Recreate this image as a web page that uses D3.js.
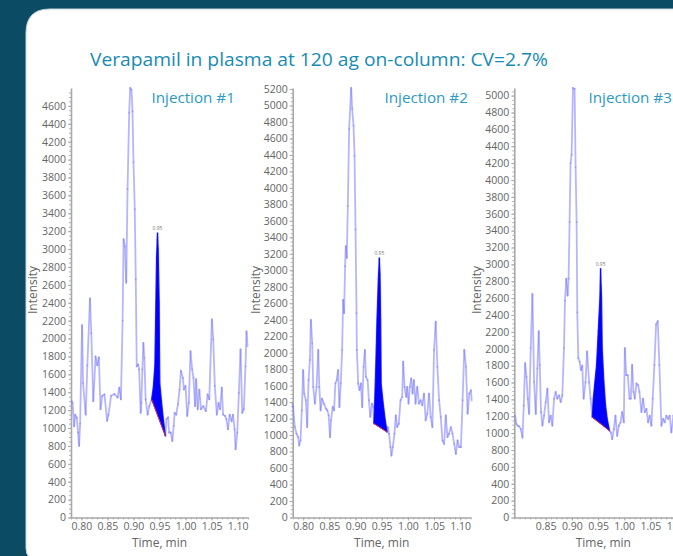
<!DOCTYPE html>
<html>
<head>
<meta charset="utf-8">
<script src="https://cdn.jsdelivr.net/npm/d3@7"></script>
<style>
body { margin: 0; background: #0b4b63; }
svg { display: block; }
</style>
</head>
<body>
<div id="chart-area"></div>
<script>
var width = 673;
var height = 556;

// injection #1
var inj1Time = [0.7816,0.7829,0.7861,0.7880,0.7911,0.7937,0.7956,0.7975,0.8013,0.8032,0.8082,0.8114,0.8165,0.8190,0.8228,0.8272,0.8304,0.8335,0.8367,0.8399,0.8443,0.8494,0.8519,0.8570,0.8633,0.8696,0.8728,0.8759,0.8791,0.8810,0.8835,0.8861,0.8886,0.8918,0.8937,0.8962,0.8981,0.9000,0.9025,0.9044,0.9063,0.9089,0.9108,0.9139,0.9152,0.9171,0.9190,0.9209,0.9234,0.9272,0.9304,0.9348,0.9380,0.9411,0.9430,0.9443,0.9456,0.9462,0.9475,0.9494,0.9506,0.9538,0.9570,0.9614,0.9633,0.9665,0.9684,0.9715,0.9747,0.9772,0.9791,0.9823,0.9854,0.9886,0.9911,0.9949,0.9968,1.0000,1.0032,1.0063,1.0095,1.0127,1.0152,1.0184,1.0203,1.0234,1.0266,1.0297,1.0342,1.0392,1.0424,1.0456,1.0506,1.0532,1.0563,1.0601,1.0633,1.0665,1.0696,1.0722,1.0759,1.0785,1.0816,1.0848,1.0886,1.0911,1.0943,1.0962,1.0994,1.1025,1.1057,1.1089,1.1120,1.1152,1.1171,1.1190];
var inj1Int = [1300,1280,1020,1150,1115,950,800,1050,2150,1500,1150,1700,2450,2060,1300,1800,1700,1790,1210,1360,1375,1080,1150,1360,1380,1340,1450,1320,2200,3110,3030,2625,3670,4525,4800,4780,4540,3970,3445,2660,1690,1710,1655,1170,1280,1655,1950,1785,1320,1150,1245,1320,1450,1700,2400,2900,3100,3180,3000,2400,1500,1300,1120,910,1100,1120,950,950,855,1023,1170,1150,1265,1430,1640,1560,1430,1470,1135,1280,1860,1655,1560,1245,1545,1210,1430,1210,1245,1190,1375,1320,2213,1990,1470,1150,1280,1210,1450,1150,1135,1100,985,1150,1075,1150,985,763,950,1395,1880,1170,1210,1690,2080,1915];

// injection #2
var inj2Time = [0.7795,0.7808,0.7840,0.7872,0.7904,0.7923,0.7949,0.7974,0.8000,0.8019,0.8051,0.8077,0.8103,0.8128,0.8147,0.8173,0.8192,0.8224,0.8256,0.8288,0.8308,0.8333,0.8359,0.8397,0.8436,0.8462,0.8487,0.8513,0.8532,0.8564,0.8590,0.8615,0.8641,0.8667,0.8692,0.8718,0.8744,0.8763,0.8782,0.8801,0.8814,0.8833,0.8853,0.8878,0.8917,0.8936,0.8962,0.8981,0.9000,0.9019,0.9026,0.9051,0.9077,0.9103,0.9128,0.9154,0.9179,0.9199,0.9231,0.9256,0.9282,0.9314,0.9340,0.9350,0.9365,0.9385,0.9410,0.9436,0.9455,0.9468,0.9480,0.9490,0.9526,0.9564,0.9603,0.9615,0.9641,0.9667,0.9686,0.9712,0.9744,0.9769,0.9795,0.9827,0.9859,0.9891,0.9910,0.9936,0.9968,0.9987,1.0013,1.0038,1.0064,1.0090,1.0115,1.0147,1.0179,1.0212,1.0244,1.0276,1.0308,1.0340,1.0372,1.0404,1.0436,1.0468,1.0500,1.0532,1.0564,1.0596,1.0628,1.0660,1.0692,1.0724,1.0756,1.0788,1.0821,1.0853,1.0885,1.0917,1.0949,1.0981,1.1013,1.1045,1.1077,1.1109,1.1141,1.1173,1.1205,1.1218];
var inj2Int = [1382,1341,1098,1016,976,874,935,1300,1789,1504,1423,1098,1667,1911,2398,2114,1585,1382,1585,2033,1585,1300,1443,1382,1321,1300,1240,976,1179,1341,1300,1626,1667,1789,1341,1626,2033,2642,2480,3049,3293,3151,3780,4716,5212,4960,4756,4390,3496,2480,2033,1626,1545,1626,1341,1829,2033,1707,1667,1423,1220,1382,1341,1140,1380,1800,2400,2900,3150,2950,2400,1620,1400,1200,1037,1098,1016,854,752,854,1016,1240,1098,1138,1423,1463,1890,1585,1463,1585,1382,1585,1687,1504,1667,1382,1585,1382,1423,1362,1504,1179,1260,1504,1220,1098,2033,2378,1829,1423,1220,935,894,1240,976,1016,1098,1016,894,772,935,854,854,1423,2033,1829,1260,1504,1545,1423];

// injection #3
var inj3Time = [0.7916,0.7941,0.7967,0.7992,0.8024,0.8056,0.8081,0.8106,0.8132,0.8157,0.8183,0.8214,0.8246,0.8278,0.8310,0.8341,0.8367,0.8386,0.8411,0.8437,0.8468,0.8500,0.8532,0.8563,0.8595,0.8627,0.8659,0.8690,0.8722,0.8754,0.8786,0.8817,0.8849,0.8868,0.8893,0.8918,0.8937,0.8956,0.8975,0.8994,0.9021,0.9052,0.9071,0.9090,0.9103,0.9122,0.9148,0.9173,0.9198,0.9224,0.9260,0.9290,0.9330,0.9357,0.9389,0.9408,0.9471,0.9503,0.9535,0.9548,0.9567,0.9579,0.9611,0.9643,0.9675,0.9719,0.9744,0.9770,0.9802,0.9833,0.9865,0.9897,0.9929,0.9960,0.9992,1.0011,1.0037,1.0068,1.0100,1.0125,1.0151,1.0176,1.0202,1.0233,1.0265,1.0290,1.0329,1.0360,1.0392,1.0424,1.0456,1.0487,1.0519,1.0544,1.0576,1.0608,1.0640,1.0671,1.0710,1.0741,1.0773,1.0805,1.0837,1.0868,1.0900,1.0938,1.1000,1.1060,1.1120];
var inj3Int = [1208,1108,1088,1080,1048,948,1328,1828,1668,1408,1228,2008,2650,1608,1228,1768,2208,1808,1248,1088,1208,1368,1528,1128,1208,1088,1408,1488,1408,1448,1368,1448,2008,2570,2830,2630,2830,3500,4200,4300,5090,5080,4150,3500,2430,1888,1848,1748,1800,1408,1600,1968,1600,1408,1188,1408,1808,2208,2608,2950,2600,2008,1608,1328,1168,1028,1008,928,1048,1208,968,1088,1128,1248,1128,2008,1688,1688,1408,1408,1808,1488,1408,1588,1568,1488,1248,1408,1248,1288,1128,1208,1088,1408,1808,2288,2328,1808,1088,1168,1128,1208,1168,1208,1008,1208,1300,1100,1500];

// integrated peak (start, end time)
var peakStart = [0.9348, 0.9350, 0.9389];
var peakEnd = [0.9614, 0.9603, 0.9719];
var peakLabel = ["0.95", "0.95", "0.95"];

var titles = ["Injection #1", "Injection #2", "Injection #3"];
var xTicks1 = [0.80, 0.85, 0.90, 0.95, 1.00, 1.05, 1.10];
var xTicks3 = [0.85, 0.90, 0.95, 1.00, 1.05, 1.10];

var series = [
	{time: inj1Time, value: inj1Int},
	{time: inj2Time, value: inj2Int},
	{time: inj3Time, value: inj3Int}
];

// panel layout (pixels)
var panels = [
	{left: 71, right: 248, xDom: [0.78, 1.12], ticks: xTicks1, labelX: 151.5, yLabelX: 33},
	{left: 292.7, right: 470.7, xDom: [0.78, 1.12], ticks: xTicks1, labelX: 384.5, yLabelX: 256},
	{left: 514.3, right: 692.3, xDom: [0.79, 1.13], ticks: xTicks3, labelX: 588.5, yLabelX: 477}
];
var plotTop = 88, plotBottom = 517.5;

var svg = d3.select("#chart-area")
	.append("svg")
	.attr("width", width)
	.attr("height", height);

svg.append("rect").attr("width", width).attr("height", height).attr("fill", "#0b4b63");

// white card
svg.append("path")
	.attr("d", "M26,33 Q26,9 50,9 L760,9 L760,560 L38,560 Q26,560 26,548 Z")
	.attr("fill", "#ffffff")
	.attr("stroke", "#c9d3da")
	.attr("stroke-width", 1);

svg.append("text")
	.attr("x", 90)
	.attr("y", 66)
	.attr("font-family", "Open Sans")
	.attr("font-size", "18.5px")
	.attr("fill", "#168bb3")
	.attr("textLength", 458)
	.attr("lengthAdjust", "spacingAndGlyphs")
	.text("Verapamil in plasma at 120 ag on-column: CV=2.7%");

svg.append("defs").append("clipPath").attr("id", "cardclip")
	.append("rect").attr("x", 26).attr("y", 9).attr("width", 647).attr("height", 547);

series.forEach(function(s, i) {
	var p = panels[i];
	var data = s.time.map(function(t, k) { return {t: t, v: s.value[k]}; });

	var x = d3.scaleLinear().domain(p.xDom).range([p.left, p.right]);
	var y = d3.scaleLinear().domain([0, d3.max(data, function(d) { return d.v; })]).range([plotBottom, plotTop]);

	var g = svg.append("g").attr("clip-path", "url(#cardclip)");

	// minor ticks
	g.append("g")
		.attr("transform", "translate(" + p.left + ",0)")
		.call(d3.axisLeft(y).tickValues(d3.range(0, y.domain()[1], 50)).tickSize(2).tickFormat(""))
		.call(function(a) {
			a.select(".domain").remove();
			a.selectAll("line").attr("stroke", "#b0b0b0");
		});
	g.append("g")
		.attr("transform", "translate(0," + plotBottom + ")")
		.call(d3.axisBottom(x).tickValues(d3.range(Math.ceil(p.xDom[0] * 100), p.xDom[1] * 100, 1).map(function(v) { return v / 100; })).tickSize(2).tickFormat(""))
		.call(function(a) {
			a.select(".domain").remove();
			a.selectAll("line").attr("stroke", "#b0b0b0");
		});

	var yAxis = g.append("g")
		.attr("transform", "translate(" + p.left + ",0)")
		.call(d3.axisLeft(y).tickValues(d3.range(0, y.domain()[1], 200)).tickFormat(d3.format("d")).tickSize(3).tickPadding(2).tickSizeOuter(0));
	var xAxis = g.append("g")
		.attr("transform", "translate(0," + plotBottom + ")")
		.call(d3.axisBottom(x).tickValues(p.ticks).tickFormat(d3.format(".2f")).tickSize(3).tickPadding(2).tickSizeOuter(0));

	[yAxis, xAxis].forEach(function(a) {
		a.select(".domain").attr("stroke", "#a8a8a8").attr("stroke-width", 1.6);
		a.selectAll(".tick line").attr("stroke", "#a8a8a8");
		a.selectAll("text")
			.attr("font-family", "Open Sans")
			.attr("font-size", "10.5px")
			.attr("fill", "#666");
	});

	// trace, drawn segment by segment so that the joints overlap a little darker
	var segs = d3.pairs(data);
	g.append("g").selectAll("line")
		.data(segs)
		.enter().append("line")
		.attr("x1", function(d) { return x(d[0].t); })
		.attr("y1", function(d) { return y(d[0].v); })
		.attr("x2", function(d) { return x(d[1].t); })
		.attr("y2", function(d) { return y(d[1].v); })
		.attr("stroke", "#7a7aff")
		.attr("stroke-opacity", 0.55)
		.attr("stroke-width", 1.8)
		.attr("stroke-linecap", "round");

	// integrated peak
	var t0 = peakStart[i], t1 = peakEnd[i];
	var inPeak = data.filter(function(d) { return d.t >= t0 - 1e-6 && d.t <= t1 + 1e-6; });
	var b0 = inPeak[0], b1 = inPeak[inPeak.length - 1];
	var base = d3.scaleLinear().domain([b0.t, b1.t]).range([b0.v, b1.v]);
	var area = d3.area()
		.x(function(d) { return x(d.t); })
		.y0(function(d) { return y(base(d.t)); })
		.y1(function(d) { return y(d.v); });
	g.append("path")
		.datum(inPeak)
		.attr("d", area)
		.attr("fill", "#0000ff")
		.attr("stroke", "#0000ff")
		.attr("stroke-width", 0.8);
	g.append("line")
		.attr("x1", x(b0.t)).attr("y1", y(b0.v))
		.attr("x2", x(b1.t)).attr("y2", y(b1.v))
		.attr("stroke", "#e0303a")
		.attr("stroke-width", 1);

	var apex = d3.greatest(inPeak, function(d) { return d.v; });
	g.append("text")
		.attr("x", x(apex.t))
		.attr("y", y(apex.v) - 3)
		.attr("text-anchor", "middle")
		.attr("font-family", "Open Sans")
		.attr("font-size", "5px")
		.attr("fill", "#777")
		.text(peakLabel[i]);

	g.append("text")
		.attr("x", p.labelX)
		.attr("y", 102.5)
		.attr("font-family", "Open Sans")
		.attr("font-size", "15.2px")
		.attr("fill", "#2b9ac4")
		.text(titles[i]);

	g.append("text")
		.attr("x", (p.left + p.right) / 2)
		.attr("y", 547)
		.attr("text-anchor", "middle")
		.attr("font-family", "Open Sans")
		.attr("font-size", "12px")
		.attr("fill", "#666")
		.text("Time, min");

	g.append("text")
		.attr("transform", "translate(" + (p.yLabelX + 4) + ",290) rotate(-90)")
		.attr("text-anchor", "middle")
		.attr("font-family", "Open Sans")
		.attr("font-size", "12px")
		.attr("fill", "#666")
		.text("Intensity");
});
</script>
</body>
</html>
